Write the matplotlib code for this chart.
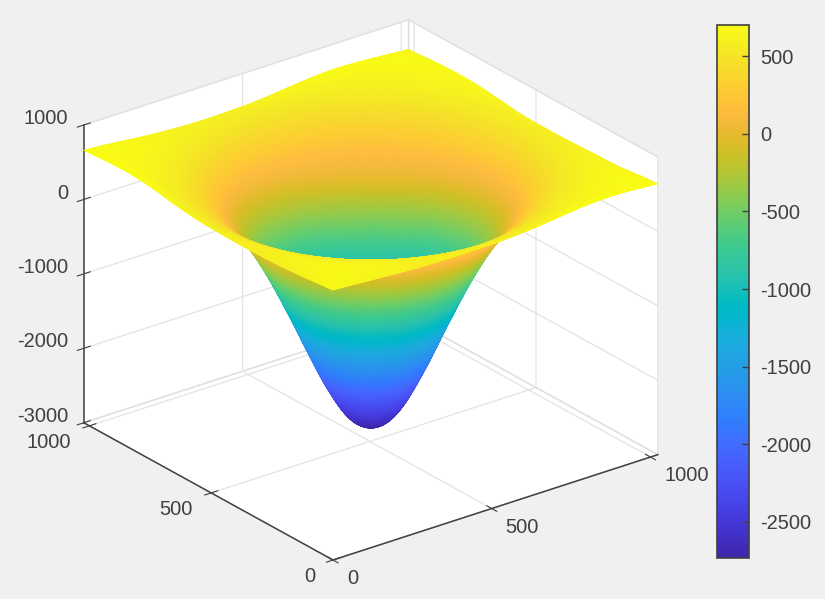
import numpy as np
import matplotlib
matplotlib.use("Agg")
import matplotlib.pyplot as plt
from matplotlib.colors import LinearSegmentedColormap, Normalize
from matplotlib.cm import ScalarMappable
from mpl_toolkits.mplot3d import proj3d

plt.rcParams['font.family'] = ['Liberation Sans', 'DejaVu Sans']
plt.rcParams['axes.unicode_minus'] = False

# grid coordinates of the height table
grid_x = [0,51,102,153,205,256,307,358,409,460,512,563,614,665,716,767,818,870,921,972,1023]
grid_y = [0,51,102,153,205,256,307,358,409,460,512,563,614,665,716,767,818,870,921,972,1023]

# estimated heights from the well centre outward (one quadrant, mirrored)
well_quadrant = [
 [-2830,-2710,-2350,-1845,-1292,-772,-321,30,282,445,544],
 [-2710,-2590,-2240,-1755,-1226,-724,-288,51,294,452,548],
 [-2350,-2240,-1940,-1510,-1041,-588,-196,111,329,472,558],
 [-1845,-1755,-1510,-1162,-772,-391,-61,196,380,500,572],
 [-1292,-1226,-1041,-772,-466,-167,92,294,438,533,589],
 [-772,-724,-588,-391,-167,51,241,389,495,564,605],
 [-321,-288,-196,-61,92,241,370,472,544,591,620],
 [30,51,111,196,294,389,472,536,582,612,631],
 [282,294,329,380,438,495,544,582,610,628,638],
 [445,452,472,500,533,564,591,612,628,640,644],
 [544,548,558,572,589,605,620,631,638,644,650],
]
# heights read along the four outer edges of the sheet
edge_x0 = [627,610,590,575,560,555,550,548,548,552,558,570,590,615,645,670,687,690,685,675,660]
edge_y1000 = [660,645,625,600,580,565,555,550,552,558,565,580,600,625,645,658,660,650,635,618,600]
edge_x1000 = [640,625,605,585,577,572,565,560,557,558,560,568,585,605,625,636,640,635,625,612,600]
edge_y0 = [627,615,600,585,570,558,552,550,550,550,553,562,578,600,625,650,668,675,670,655,640]
# the far wall of the well sits closer to the centre than the near wall:
# radial pull (data units) read at each height on the far side
far_wall_z = [-2830, -2000, -1500, -850, -500, 0, 150, 300, 450, 600]
far_wall_pull = [0, 50, 90, 113, 117, 125, 59, 30, 10, 0]

xy_ticks = [0, 500, 1000]
z_ticks = [-3000, -2000, -1000, 0, 1000]
cbar_ticks = [500, 0, -500, -1000, -1500, -2000, -2500]
cbar_limits = (-2732, 700)
surface_color_limits = (-2732, 650)

parula_rgb = [
(0.2422,0.1504,0.6603),(0.2504,0.1650,0.7076),(0.2578,0.1818,0.7511),(0.2647,0.1978,0.7952),
(0.2706,0.2147,0.8364),(0.2751,0.2342,0.8710),(0.2783,0.2559,0.8991),(0.2803,0.2782,0.9221),
(0.2813,0.3006,0.9414),(0.2810,0.3228,0.9579),(0.2795,0.3447,0.9717),(0.2760,0.3667,0.9829),
(0.2699,0.3892,0.9906),(0.2602,0.4123,0.9952),(0.2440,0.4358,0.9988),(0.2206,0.4603,0.9973),
(0.1963,0.4847,0.9892),(0.1834,0.5074,0.9798),(0.1786,0.5289,0.9682),(0.1764,0.5499,0.9520),
(0.1687,0.5703,0.9359),(0.1540,0.5902,0.9218),(0.1460,0.6091,0.9079),(0.1380,0.6276,0.8973),
(0.1248,0.6459,0.8883),(0.1113,0.6635,0.8763),(0.0952,0.6798,0.8598),(0.0689,0.6948,0.8394),
(0.0297,0.7082,0.8163),(0.0036,0.7203,0.7917),(0.0067,0.7312,0.7660),(0.0433,0.7411,0.7394),
(0.0964,0.7500,0.7120),(0.1408,0.7584,0.6842),(0.1717,0.7670,0.6554),(0.1938,0.7758,0.6251),
(0.2161,0.7843,0.5923),(0.2470,0.7918,0.5567),(0.2906,0.7973,0.5188),(0.3406,0.8008,0.4789),
(0.3909,0.8029,0.4354),(0.4456,0.8024,0.3909),(0.5044,0.7993,0.3480),(0.5616,0.7942,0.3045),
(0.6174,0.7876,0.2612),(0.6720,0.7793,0.2227),(0.7242,0.7698,0.1910),(0.7738,0.7598,0.1646),
(0.8203,0.7498,0.1535),(0.8634,0.7406,0.1596),(0.9035,0.7330,0.1774),(0.9393,0.7288,0.2100),
(0.9728,0.7298,0.2394),(0.9956,0.7434,0.2371),(0.9970,0.7659,0.2199),(0.9952,0.7893,0.2028),
(0.9892,0.8136,0.1885),(0.9786,0.8386,0.1766),(0.9676,0.8639,0.1643),(0.9610,0.8890,0.1537),
(0.9597,0.9135,0.1423),(0.9628,0.9373,0.1265),(0.9691,0.9606,0.1064),(0.9769,0.9839,0.0805)]
parula = LinearSegmentedColormap.from_list('parula', parula_rgb, N=1024)

# assemble the table
q = np.array(well_quadrant, float)
right = np.hstack([q[:, :0:-1], q])
Z = np.vstack([right[:0:-1], right])      # Z[iy, ix]
Z[:, 0] = edge_x0
Z[:, -1] = edge_x1000
Z[0, :] = edge_y0
Z[-1, :] = edge_y1000

# smooth subdivision of each cell for drawing, like MATLAB's interpolated shading
SUB = 12
def refine(a, sub):
    n = a.shape[0]
    t = np.arange((n - 1) * sub + 1) / sub
    i = np.minimum(t.astype(int), n - 2)
    u = (t - i).reshape((-1,) + (1,) * (a.ndim - 1))
    p0, p1 = a[np.maximum(i - 1, 0)], a[i]
    p2, p3 = a[i + 1], a[np.minimum(i + 2, n - 1)]
    return 0.5 * (2*p1 + (p2 - p0)*u + (2*p0 - 5*p1 + 4*p2 - p3)*u**2 + (3*p1 - p0 - 3*p2 + p3)*u**3)

gx = np.array(grid_x, float)
gy = np.array(grid_y, float)
fine_x = refine(gx, SUB)
fine_y = refine(gy, SUB)
Zf = refine(refine(Z, SUB).T, SUB).T
XX, YY = np.meshgrid(fine_x, fine_y)

# draw the far wall at the radii
CX, CY = 512.0, 512.0
dxv, dyv = XX - CX, YY - CY
rad = np.maximum(np.hypot(dxv, dyv), 1e-6)
far = np.clip((0.609 * dxv + 0.793 * dyv) / rad, 0, 1) ** 2
pull = np.interp(Zf, far_wall_z, far_wall_pull) * far
XX = XX - pull * dxv / rad
YY = YY - pull * dyv / rad

W, H = 825, 599
BG = '#f0f0f0'
INK = '#404040'
fig = plt.figure(figsize=(W/100, H/100), dpi=100, facecolor=BG)
ax = fig.add_axes([0, 0, 1, 1], projection='3d', proj_type='ortho', facecolor='none')
ax.patch.set_visible(False)
ax.view_init(elev=25, azim=-127.5)
ax.set_xlim(0, 1023, view_margin=0)
ax.set_ylim(0, 1023, view_margin=0)
ax.set_zlim(-3000, 1000, view_margin=0)
ax.set_xticks(xy_ticks); ax.set_yticks(xy_ticks); ax.set_zticks(z_ticks)

for axis in (ax.xaxis, ax.yaxis, ax.zaxis):
    axis.set_pane_color((1, 1, 1, 1))
    axis.pane.set_edgecolor('#dedede')
    axis.pane.set_linewidth(1.0)
    axis.line.set_color(INK)
    axis.line.set_linewidth(1.1)
    axis._axinfo['grid'].update(color='#e3e3e3', linewidth=0.9)
    axis._axinfo['tick'].update(inward_factor=0.25, outward_factor=0.25, color=INK)
ax.tick_params(labelsize=14.5, colors=INK)
ax.xaxis.set_tick_params(pad=4.5)
ax.yaxis.set_tick_params(pad=4.5)
ax.zaxis.set_tick_params(pad=-2)
ax.zaxis.set_ticks_position('upper')
ax.zaxis.set_label_position('upper')
plt.setp(ax.get_yticklabels(), ha='right', va='baseline')
plt.setp(ax.get_xticklabels(), ha='left', va='baseline')
plt.setp(ax.get_zticklabels(), ha='right', va='baseline')

# fit the box to the reference's pixel corners
ASPECT = (410, 410, 329)
zoom = 1.0
dx = dy = 0.0
def px(x, y, z):
    a, b, _ = proj3d.proj_transform(x, y, z, ax.get_proj())
    return ax.transData.transform((a, b))
for _ in range(3):
    ax.set_box_aspect(ASPECT, zoom=zoom)
    ax.set_position([dx, dy, 1, 1])
    fig.canvas.draw()
    left = px(0, 1023, 1000)
    rgt = px(1023, 0, -3000)
    zoom *= (657 - 83) / (rgt[0] - left[0])
    ax.set_box_aspect(ASPECT, zoom=zoom)
    fig.canvas.draw()
    front = px(0, 0, -3000)
    dx += (333 - front[0]) / W
    dy += ((H - 560) - front[1]) / H
ax.set_position([dx, dy, 1, 1])

colors = parula(Normalize(*surface_color_limits)(Zf))
ax.plot_surface(XX, YY, Zf, facecolors=colors, rstride=1, cstride=1,
                shade=False, linewidth=0.5, antialiased=True)

norm = Normalize(*cbar_limits)
cax = fig.add_axes([717/W, 1-558/H, 32/W, 533/H])
cb = fig.colorbar(ScalarMappable(norm=norm, cmap=parula), cax=cax, ticks=cbar_ticks)
cb.outline.set_edgecolor(INK)
cb.outline.set_linewidth(1.2)
cax.tick_params(direction='in', length=5, width=1, color=INK, labelcolor=INK, labelsize=14.5, pad=8)
cb.ax.set_yticklabels([str(t) for t in cbar_ticks])

fig.savefig('out.png', dpi=100, facecolor=BG)
